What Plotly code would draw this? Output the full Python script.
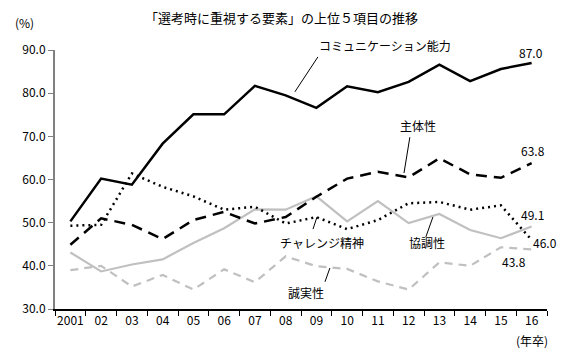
import plotly.graph_objects as go

years = ["2001", "02", "03", "04", "05", "06", "07", "08", "09", "10", "11", "12", "13", "14", "15", "16"]
communication = [50.3, 60.2, 58.8, 68.3, 75.1, 75.1, 81.7, 79.5, 76.6, 81.6, 80.2, 82.6, 86.6, 82.8, 85.6, 87.0]
shutaisei = [44.9, 51.0, 49.5, 46.2, 50.6, 52.5, 49.8, 51.3, 56.0, 60.2, 61.8, 60.5, 64.9, 61.2, 60.4, 63.8]
challenge = [49.3, 49.5, 61.4, 58.3, 56.1, 53.0, 53.7, 49.8, 51.3, 48.5, 50.6, 54.5, 54.8, 53.0, 54.0, 46.0]
kyochosei = [43.1, 38.7, 40.3, 41.5, 45.3, 48.7, 53.1, 53.0, 56.1, 50.3, 55.0, 49.9, 52.0, 48.3, 46.4, 49.1]
seijitsu = [39.0, 40.0, 35.2, 37.9, 34.5, 39.2, 36.2, 42.2, 39.9, 39.3, 36.4, 34.5, 40.8, 40.0, 44.3, 43.8]

fig = go.Figure()
fig.add_trace(go.Scatter(x=years, y=seijitsu, mode="lines",
                         line=dict(color="#c0c0c0", width=2.2, dash="8px,6px")))
fig.add_trace(go.Scatter(x=years, y=kyochosei, mode="lines",
                         line=dict(color="#c0c0c0", width=2.2)))
fig.add_trace(go.Scatter(x=years, y=challenge, mode="lines",
                         line=dict(color="black", width=2.5, dash="2px,4px")))
fig.add_trace(go.Scatter(x=years, y=shutaisei, mode="lines",
                         line=dict(color="black", width=2.5, dash="11px,7px")))
fig.add_trace(go.Scatter(x=years, y=communication, mode="lines",
                         line=dict(color="black", width=2.5)))

font = "Noto Sans CJK JP, sans-serif"

ann = []
def t(x, y, text, xref="x", yref="y", size=12, xanchor="center"):
    ann.append(dict(x=x, y=y, xref=xref, yref=yref, text=text, showarrow=False,
                    font=dict(size=size, color="black", family=font), xanchor=xanchor, yanchor="middle"))

t(0.671, 1.019, "コミュニケーション能力", xref="paper", yref="paper")
t(11.30, 72.6, "主体性")
t(15.05, 66.8, "63.8")
t(14.98, 89.5, "87.0")
t(8.18, 45.5, "チャレンジ精神")
t(11.6, 45.3, "協調性")
t(7.66, 33.9, "誠実性")
t(15.04, 51.8, "49.1")
t(15.43, 45.3, "46.0")
t(14.43, 40.9, "43.8")
t(0.97, -0.12, "(年卒)", xref="paper", yref="paper")
t(0.461, 1.127, "「選考時に重視する要素」の上位５項目の推移", xref="paper", yref="paper", size=13)
t(-0.061, 1.108, "(%)", xref="paper", yref="paper")

shapes = []
def ln(x0, y0, x1, y1):
    shapes.append(dict(type="line", xref="x", yref="y", x0=x0, y0=y0, x1=x1, y1=y1,
                       line=dict(color="black", width=1)))

ln(8.05, 88.4, 7.30, 80.3)
ln(11.04, 69.8, 10.85, 61.5)
ln(8.02, 51.3, 7.89, 48.5)
ln(11.79, 51.3, 11.56, 46.7)
ln(8.44, 39.5, 8.28, 36.3)

fig.update_layout(
    width=569, height=349,
    margin=dict(l=55, r=22, t=50, b=40),
    paper_bgcolor="white", plot_bgcolor="white",
    showlegend=False,
    annotations=ann, shapes=shapes,
    font=dict(family=font, color="black", size=12),
)
fig.update_xaxes(type="category", range=[-0.5, 15.5], tickson="boundaries",
                 ticks="outside", ticklen=5, tickcolor="black", tickangle=0,
                 showline=True, linecolor="black", linewidth=1.5,
                 showgrid=False, tickfont=dict(size=12), zeroline=False)
fig.update_yaxes(range=[30, 90], tickvals=[30, 40, 50, 60, 70, 80, 90],
                 ticktext=["30.0", "40.0", "50.0", "60.0", "70.0", "80.0", "90.0"],
                 ticks="outside", ticklen=5, tickcolor="#808080",
                 showline=True, linecolor="#808080", linewidth=2,
                 showgrid=False, zeroline=False, tickfont=dict(size=12))

fig.write_html("out.html")
